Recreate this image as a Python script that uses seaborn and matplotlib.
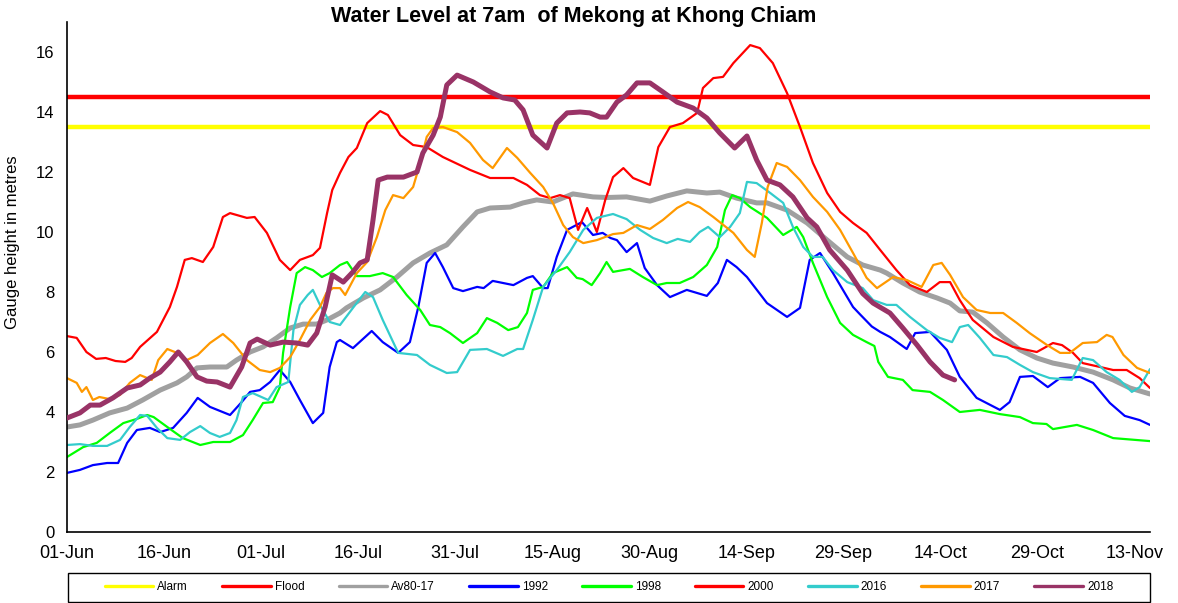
import numpy as np
import pandas as pd
import seaborn as sns
import matplotlib.pyplot as plt
from matplotlib.lines import Line2D
from matplotlib.patches import Rectangle

# warning levels (m)
alarm_level = 13.5
flood_level = 14.5

# tick labels, every 15 days starting 01-Jun (day 0)
tick_days = [0, 15, 30, 45, 60, 75, 90, 105, 120, 135, 150, 165]
tick_labels = ['01-Jun', '16-Jun', '01-Jul', '16-Jul', '31-Jul', '15-Aug',
               '30-Aug', '14-Sep', '29-Sep', '14-Oct', '29-Oct', '13-Nov']

# (day since 01-Jun, gauge height)
av80_17 = [(0,3.5),(2,3.57),(4,3.73),(6.6,3.97),(9.3,4.13),(11.7,4.4),(14.4,4.73),(17,4.97),
           (18.5,5.17),(20.1,5.47),(22.1,5.5),(24.7,5.5),(26.2,5.73),(28.3,6.0),(30.3,6.17),
           (32.4,6.47),(34.5,6.8),(36.5,6.93),(38.6,6.93),(40.2,7.07),(42.2,7.3),(43.2,7.47),
           (45.8,7.8),(48.4,8.07),(51,8.5),(53.5,8.97),(56.1,9.3),(58.7,9.57),(61.2,10.17),
           (63.4,10.67),(65.4,10.8),(68.5,10.83),(70.5,10.97),(72.6,11.07),(75.1,11.0),
           (78.2,11.27),(81.3,11.17),(83.5,11.15),(86.5,11.17),(90.1,11.03),(92.7,11.2),
           (95.8,11.37),(98.9,11.3),(100.9,11.33),(103.5,11.13),(106.6,10.97),(108.2,10.97),
           (111.3,10.73),(114.4,10.3),(117.5,9.73),(120.6,9.17),(123,8.9),(125.7,8.73),
           (126.7,8.63),(129.2,8.3),(131.8,8.0),(134.5,7.8),(136.5,7.63),(138,7.37),(140,7.33),
           (142.2,6.97),(144.7,6.5),(147.3,6.07),(149.9,5.8),(152.4,5.63),(155.5,5.5),
           (158.6,5.33),(161.7,5.07),(164.3,4.8),(167.4,4.6)]

y1992 = [(0,1.97),(2,2.07),(4,2.23),(6.2,2.3),(7.9,2.3),(9.3,2.97),(10.8,3.4),(12.8,3.47),
         (14.4,3.33),(16.4,3.47),(18.5,3.97),(20.2,4.47),(22.1,4.17),(25.2,3.9),(27,4.33),
         (28.3,4.67),(29.8,4.73),(31.4,5.0),(32.9,5.4),(34.5,5.0),(36,4.4),(38,3.63),(39.6,3.97),
         (40.6,5.5),(41.7,6.33),(42.2,6.4),(44.2,6.13),(47.1,6.7),(48.8,6.33),(51.2,5.97),
         (53,6.33),(54.3,7.5),(55.6,8.97),(56.9,9.3),(58.1,8.83),(59.7,8.13),(61.2,8.03),
         (63.4,8.17),(64.4,8.13),(65.8,8.37),(69,8.23),(71.1,8.47),(72,8.53),(73.6,8.13),
         (74.3,8.13),(75.7,9.17),(77.3,10.07),(79.6,10.33),(81.3,9.9),(82.8,9.97),(84,9.8),
         (85,9.73),(86.5,9.33),(88.1,9.63),(89.3,8.8),(91.2,8.23),(93.2,7.83),(95.8,8.07),
         (98.9,7.87),(100.6,8.3),(102,9.07),(103.5,8.83),(105.1,8.5),(108.2,7.63),(111.3,7.17),
         (113.3,7.47),(114.8,9.07),(116.4,9.3),(118.4,8.63),(121.5,7.5),(122.6,7.25),
         (124.4,6.85),(125.7,6.67),(127.2,6.5),(129.8,6.1),(131.1,6.63),(133.4,6.67),(136,6.07),
         (138,5.17),(140.6,4.47),(144.2,4.07),(145.7,4.33),(147.3,5.17),(149.3,5.2),(151.6,4.83),
         (153.5,5.13),(156.6,5.17),(158.6,4.97),(161.2,4.3),(163.5,3.87),(165.8,3.73),(167.4,3.57)]

y1998 = [(0,2.5),(2.5,2.83),(4.6,2.97),(6.6,3.3),(8.7,3.63),(10.8,3.77),(12.4,3.9),(13.4,3.83),
         (15.5,3.5),(17.9,3.13),(20.6,2.9),(22.6,3.0),(25.2,3.0),(27.2,3.23),(28.7,3.73),
         (30.3,4.3),(31.8,4.33),(32.9,4.83),(33.4,5.97),(34.5,7.5),(35.5,8.63),(36.8,8.83),
         (38,8.73),(39.4,8.5),(40.6,8.63),(42.2,8.9),(43.3,9.0),(44.8,8.53),(46.8,8.53),
         (48.8,8.63),(50.4,8.5),(52.5,7.9),(54.6,7.4),(56.1,6.9),(57.7,6.83),(59.2,6.63),
         (61.2,6.3),(63.4,6.63),(64.9,7.13),(66.5,6.97),(68.2,6.73),(69.7,6.83),(71.1,7.3),
         (72,8.07),(73.6,8.17),(75.1,8.63),(77.3,8.83),(78.8,8.47),(79.7,8.43),(81.1,8.23),
         (82.4,8.63),(83.4,9.0),(84.4,8.67),(87,8.77),(89,8.5),(91.2,8.23),(92.7,8.3),(94.7,8.3),
         (96.8,8.5),(98.9,8.9),(100.5,9.5),(101.7,10.73),(102.8,11.23),(104,11.13),(105.6,10.83),
         (108.2,10.47),(110.7,9.9),(112.8,10.17),(113.8,9.83),(115.3,8.97),(117.5,7.83),
         (119.5,6.97),(121.5,6.57),(123.6,6.33),(124.8,6.2),(125.4,5.67),(126.9,5.17),
         (129.2,5.07),(130.7,4.73),(133.4,4.67),(135.4,4.4),(138,4.0),(141.1,4.07),(144.2,3.93),
         (147.3,3.83),(149.3,3.63),(151.4,3.6),(152.4,3.43),(156.1,3.57),(158.6,3.4),
         (161.7,3.13),(167.4,3.03)]

y2000 = [(0,6.53),(1.5,6.47),(3,6.0),(4.5,5.77),(6,5.8),(7.5,5.7),(9,5.67),(10,5.8),(11.3,6.17),
         (13.9,6.67),(15.9,7.5),(17,8.17),(18.2,9.07),(19.3,9.13),(21,9.0),(22.6,9.5),(24.1,10.5),
         (25.2,10.63),(27.8,10.47),(29,10.5),(30.9,9.97),(32.9,9.07),(34.5,8.73),(36,9.07),
         (38,9.23),(39.1,9.47),(40.2,10.63),(41,11.4),(42.2,11.97),(43.5,12.5),(44.8,12.8),
         (46.4,13.63),(48.4,14.03),(49.6,13.9),(51.5,13.23),(53.5,12.9),(55.6,12.83),(58.1,12.5),
         (62.3,12.07),(65.4,11.8),(69,11.8),(71.1,11.57),(73.1,11.23),(74.7,11.13),(76.2,11.23),
         (77.7,11.13),(79,10.07),(80.4,10.8),(81.9,10.0),(83.2,11.07),(84.4,11.83),(86,12.13),
         (87.5,11.8),(90.1,11.57),(91.4,12.83),(93.2,13.5),(95.2,13.63),(97.4,13.97),(98.3,14.8),
         (99.9,15.13),(101.4,15.17),(103,15.63),(105.6,16.23),(107.1,16.13),(109.1,15.63),
         (111.3,14.63),(113.3,13.5),(115.3,12.3),(117.5,11.3),(119.5,10.67),(121.5,10.3),
         (123.6,9.97),(125.7,9.4),(128.2,8.73),(130.3,8.23),(132.9,8.0),(134.9,8.33),(136.5,8.33),
         (138,7.73),(140,7.07),(143.2,6.5),(146.2,6.17),(149.9,6.0),(151,6.13),(152.4,6.3),
         (153.8,6.23),(155.5,5.97),(157,5.63),(159.7,5.5),(161.7,5.4),(163.8,5.4),(165.8,5.13),
         (167.4,4.8)]

y2016 = [(0,2.9),(2,2.93),(4,2.87),(6.2,2.87),(8.2,3.07),(9.7,3.5),(11.3,3.9),(12.4,3.87),
         (13.9,3.47),(15.5,3.13),(17.5,3.07),(19,3.33),(20.6,3.53),(22.1,3.3),(23.6,3.17),
         (25.2,3.3),(26.2,3.73),(27.2,4.5),(28.7,4.63),(31.1,4.4),(32.4,4.83),(34.2,5.0),
         (35,6.73),(36,7.57),(37.2,7.9),(38,8.07),(39.1,7.57),(40.6,7.0),(42.2,6.9),(44.2,7.47),
         (46.1,8.0),(47.3,7.83),(48.8,7.07),(51.2,5.97),(54.1,5.9),(56.1,5.57),(58.7,5.3),
         (60.3,5.33),(62.3,6.07),(64.9,6.1),(67.4,5.87),(69.6,6.1),(70.5,6.1),(72,7.07),
         (73.6,8.17),(75.7,8.73),(77.7,9.33),(79.8,10.07),(81.9,10.47),(84.4,10.6),(86.5,10.43),
         (88.6,10.07),(90.6,9.8),(92.7,9.63),(94.4,9.77),(96.3,9.67),(97.8,10.0),(99.1,10.17),
         (100.9,9.83),(102.5,10.17),(104,10.63),(105.1,11.67),(106.6,11.63),(108.7,11.3),
         (110.7,10.97),(112.2,10.17),(113.8,9.5),(115.3,9.17),(116.8,9.17),(118.4,8.73),
         (120.6,8.33),(123,8.13),(124.6,7.73),(126.7,7.57),(128.2,7.57),(130.3,7.17),
         (132.9,6.73),(134.9,6.47),(136.8,6.33),(138,6.83),(139.3,6.9),(141.1,6.47),(143.2,5.9),
         (145.3,5.83),(147.3,5.57),(149.3,5.33),(151.9,5.13),(155.3,5.07),(157,5.8),(158.6,5.73),
         (160.7,5.33),(162.7,5.07),(164.6,4.67),(165.8,4.83),(167.4,5.43)]

y2017 = [(0,5.13),(1.5,4.97),(2.3,4.67),(3,4.83),(4,4.4),(5,4.5),(6.6,4.43),(8.2,4.57),
         (9.7,4.97),(11.3,5.23),(13.1,5.07),(14.1,5.73),(15.5,6.1),(17,5.97),(18.5,5.73),
         (20.2,5.9),(22.1,6.3),(24.1,6.6),(25.7,6.3),(27.8,5.73),(29.8,5.4),(31.4,5.33),
         (32.9,5.47),(34.5,5.83),(36,6.4),(37.6,7.07),(39.1,7.5),(40.1,7.97),(41.1,8.13),
         (42.2,8.13),(43,7.9),(44.8,8.63),(46.4,9.0),(47.9,9.83),(49.2,10.73),(50.4,11.23),
         (52,11.13),(53.5,11.5),(54.6,12.3),(55.6,13.17),(56.6,13.47),(58.1,13.5),(60.3,13.33),
         (62.3,12.97),(64.3,12.4),(65.8,12.13),(68,12.8),(69.6,12.47),(71.6,11.97),(73.6,11.5),
         (75.1,10.97),(76.7,10.23),(78.2,9.83),(79.8,9.63),(81.9,9.73),(84.4,9.93),(86,9.97),
         (88.1,10.23),(90.1,10.1),(92.1,10.4),(94.3,10.8),(96,11.0),(97.8,10.83),(99.9,10.5),
         (103,9.97),(105.1,9.4),(106.3,9.17),(107.4,10.3),(108.3,11.5),(109.7,12.3),
         (111.3,12.17),(113.3,11.73),(115.3,11.17),(117.5,10.67),(119.5,10.07),(121.5,9.3),
         (123.6,8.47),(125.2,8.13),(127.7,8.5),(129.8,8.4),(132.1,8.17),(133.9,8.9),(135.2,8.97),
         (136.5,8.57),(138.5,7.83),(140.6,7.4),(142.7,7.3),(144.7,7.3),(146.8,6.97),(148.8,6.63),
         (151.5,6.23),(153.5,5.97),(155,5.97),(157,6.3),(159.2,6.33),(160.7,6.57),(161.6,6.5),
         (163.3,5.9),(165.4,5.47),(167.4,5.3)]

y2018 = [(0,3.8),(2,3.97),(3.6,4.23),(5.1,4.23),(7.1,4.47),(9.3,4.8),(11.3,4.9),(12.8,5.13),
         (14.4,5.33),(15.9,5.67),(17.2,6.0),(18.5,5.67),(20.1,5.17),(21.6,5.03),(23.2,5.0),
         (25.2,4.83),(27,5.5),(28.3,6.3),(29.4,6.43),(31.4,6.23),(33.4,6.33),(35.5,6.3),
         (37.2,6.23),(38.6,6.63),(39.9,7.5),(41,8.57),(42.7,8.33),(44.2,8.67),(45.3,8.97),
         (46.4,9.07),(47.3,10.4),(48.1,11.73),(49.5,11.83),(52,11.83),(54.1,12.0),(55,12.63),
         (56.6,13.23),(57.7,13.83),(58.7,14.9),(60.3,15.23),(62.8,15.0),(65.4,14.67),(67.4,14.47),
         (69.2,14.4),(70.5,14.07),(72,13.23),(74.2,12.8),(75.7,13.63),(77.3,13.97),(79.3,14.0),
         (80.8,13.97),(82.4,13.83),(83.4,13.83),(85,14.33),(86.5,14.57),(88.1,14.97),(90.1,14.97),
         (92.1,14.67),(94.3,14.33),(96.8,14.13),(98.9,13.8),(100.9,13.3),(103.2,12.8),(105.1,13.2),
         (106.6,12.4),(108.2,11.73),(110.2,11.57),(112.2,11.17),(114.4,10.47),(115.9,10.17),
         (117.9,9.4),(120.6,8.73),(123,7.95),(124.6,7.63),(127.2,7.3),(129.2,6.8),(131.4,6.23),
         (133.4,5.67),(135.4,5.23),(137.2,5.07)]

series = [
    ('Av80-17', av80_17, '#a0a0a0', 3.6),
    ('1992', y1992, '#0000ff', 1.6),
    ('1998', y1998, '#00ff00', 1.6),
    ('2000', y2000, '#ff0000', 1.6),
    ('2016', y2016, '#33cccc', 1.6),
    ('2017', y2017, '#ff9900', 1.6),
    ('2018', y2018, '#993366', 3.6),
]

sns.set_style('white')
plt.rcParams['font.family'] = ['Liberation Sans', 'DejaVu Sans']
plt.rcParams['text.color'] = 'black'
plt.rcParams['axes.labelcolor'] = 'black'
plt.rcParams['xtick.color'] = 'black'
plt.rcParams['ytick.color'] = 'black'

fig = plt.figure(figsize=(11.78, 6.03), dpi=100)
ax = fig.add_axes([67/1178, 1-532/603, (1150-67)/1178, (532-22)/603])

ax.axhline(flood_level, color='#ff0000', lw=3.2, zorder=1)
ax.axhline(alarm_level, color='#ffff00', lw=3.2, zorder=1)

for name, pts, col, lw in series:
    df = pd.DataFrame(pts, columns=['day', 'level'])
    sns.lineplot(data=df, x='day', y='level', ax=ax, color=col, linewidth=lw,
                 estimator=None, sort=False, legend=False, zorder=3 if name == '2018' else 2)

ax.set_xlim(0, 167.4)
ax.set_ylim(0, 17)
ax.set_yticks(range(0, 17, 2))
ax.set_xticks(tick_days)
ax.set_xticklabels(tick_labels)
ax.tick_params(axis='both', direction='out', length=5, width=1.2, color='black', pad=4)
ax.tick_params(axis='y', labelsize=12)
ax.tick_params(axis='x', labelsize=13)
ax.set_xlabel('')
ax.set_ylabel('Gauge height in metres', fontsize=12)
ax.yaxis.set_label_coords(-0.043, 0.569)
for s in ['top', 'right']:
    ax.spines[s].set_visible(False)
for s in ['left', 'bottom']:
    ax.spines[s].set_color('black')
    ax.spines[s].set_linewidth(1.2)

fig.suptitle('Water Level at 7am  of Mekong at Khong Chiam', fontsize=15.5,
             fontweight='bold', x=574/1178, y=0.99)

handles = [Line2D([], [], color='#ffff00', lw=2.4), Line2D([], [], color='#ff0000', lw=2.4)]
labels = ['Alarm', 'Flood']
for name, pts, col, lw in series:
    handles.append(Line2D([], [], color=col, lw=2.4))
    labels.append(name)
fig.legend(handles, labels, loc='center', ncol=9,
           bbox_to_anchor=((68+1150)/2/1178, 1-587.5/603),
           frameon=False, fontsize=8.5, handlelength=4.1, handletextpad=0.35,
           columnspacing=2.9)
fig.patches.append(Rectangle((68/1178, 1-602/603), (1150-68)/1178, 29/603,
                             transform=fig.transFigure, fill=False,
                             edgecolor='black', linewidth=1.0))

fig.savefig('out.png', dpi=100)
